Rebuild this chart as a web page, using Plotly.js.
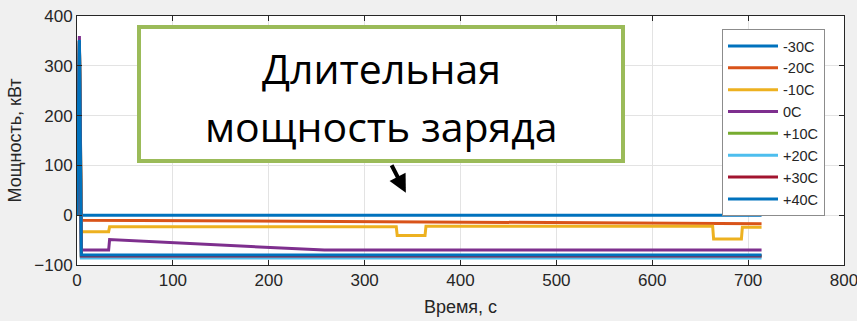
<!DOCTYPE html>
<html><head><meta charset="utf-8">
<script src="https://cdn.plot.ly/plotly-3.0.1.min.js"></script>
<style>html,body{margin:0;padding:0;background:#f0f0f0;}</style>
</head><body>
<div id="chart" style="width:857px;height:321px;"></div>
<script>
// Series names and colours
const names = ['-30C','-20C','-10C','0C','+10C','+20C','+30C','+40C'];
const colors = ['#0072BD','#D95319','#EDB120','#7E2F8E','#77AC30','#4DBEEE','#A2142F','#0072BD'];

// Time (s) and power (kW) for each series
const t_m30 = [0, 2.5, 4.5, 714];
const p_m30 = [0, 350, 0, 0];
const t_m20 = [0, 2.5, 4.5, 714];
const p_m20 = [0, 350, -10, -17];
const t_m10 = [0, 2.5, 4.5, 33, 34, 333, 334, 363, 364, 663, 664, 693, 694, 714];
const p_m10 = [0, 350, -33, -33, -23, -23, -41, -41, -22, -22, -48, -48, -24, -24];
const t_0 = [0, 2.5, 4.5, 33, 34, 258, 714];
const p_0 = [0, 360, -70, -70, -49, -70, -70];
const t_p10 = [0, 2.5, 4.5, 714];
const p_p10 = [0, 350, -82, -82];
const t_p20 = [0, 2.5, 4.5, 714];
const p_p20 = [0, 352, -86, -86];
const t_p30 = [0, 2.5, 4.5, 714];
const p_p30 = [0, 350, -82, -82];
const t_p40 = [0, 2.5, 4.5, 714];
const p_p40 = [0, 352, -80, -80];

const xs = [t_m30, t_m20, t_m10, t_0, t_p10, t_p20, t_p30, t_p40];
const ys = [p_m30, p_m20, p_m10, p_0, p_p10, p_p20, p_p30, p_p40];

// Callout text
const calloutLines = ['Длительная', 'мощность заряда'];

const data = names.map((n, i) => ({
  x: xs[i], y: ys[i], name: n, type: 'scatter', mode: 'lines',
  line: {color: colors[i], width: 3}
}));

const tickFont = {family: 'Liberation Sans, Arial, sans-serif', size: 17, color: '#262626'};
const titleFont = {family: 'Liberation Sans, Arial, sans-serif', size: 18, color: '#262626'};

// plot area: x 77..844 px, y 16..265 px
const px = v => (v - 77) / 767;
const py = v => 1 - (v - 16) / 249;

const layout = {
  width: 857, height: 321,
  margin: {l: 77, r: 13, t: 16, b: 56},
  paper_bgcolor: '#f0f0f0',
  plot_bgcolor: '#ffffff',
  showlegend: true,
  xaxis: {
    range: [0, 800], tickvals: [0,100,200,300,400,500,600,700,800],
    showgrid: true, gridcolor: '#e3e3e3', zeroline: false,
    showline: true, linecolor: '#262626', linewidth: 1, mirror: 'ticks',
    ticks: 'inside', ticklen: 5, tickcolor: '#262626',
    tickfont: tickFont, ticklabeloverflow: 'allow',
    title: {text: 'Время, с', font: titleFont, standoff: 10}
  },
  yaxis: {
    range: [-100, 400], tickvals: [-100,0,100,200,300,400],
    showgrid: true, gridcolor: '#e3e3e3', zeroline: false,
    showline: true, linecolor: '#262626', linewidth: 1, mirror: 'ticks',
    ticks: 'inside', ticklen: 5, tickcolor: '#262626',
    tickfont: tickFont,
    title: {text: 'Мощность, кВт', font: titleFont, standoff: 8}
  },
  legend: {
    x: px(722), y: py(29), xanchor: 'left', yanchor: 'top',
    bgcolor: '#ffffff', bordercolor: '#8c8c8c', borderwidth: 1,
    font: {family: 'Liberation Sans, Arial, sans-serif', size: 14.5, color: '#262626'},
    tracegroupgap: 0, itemwidth: 50
  },
  shapes: [
    {type: 'rect', xref: 'paper', yref: 'paper', layer: 'above',
     x0: px(139), x1: px(623), y0: py(27), y1: py(161),
     line: {color: '#9BBB59', width: 4}, fillcolor: '#ffffff'}
  ],
  annotations: [
    {
      xref: 'paper', yref: 'paper', x: px(381), y: py(68), xanchor: 'center', yanchor: 'middle',
      text: calloutLines[0], showarrow: false,
      font: {family: 'Open Sans, sans-serif', size: 41, color: '#000000'}
    },
    {
      xref: 'paper', yref: 'paper', x: px(381), y: py(126), xanchor: 'center', yanchor: 'middle',
      text: calloutLines[1], showarrow: false,
      font: {family: 'Open Sans, sans-serif', size: 41, color: '#000000'}
    },
    {
      xref: 'x', yref: 'y', x: 343, y: 45, ax: -15, ay: -29,
      text: '', showarrow: true, arrowhead: 2, arrowsize: 0.9, arrowwidth: 4, arrowcolor: '#000000'
    }
  ]
};

Plotly.newPlot('chart', data, layout, {displayModeBar: false, staticPlot: true});
</script>
</body></html>
